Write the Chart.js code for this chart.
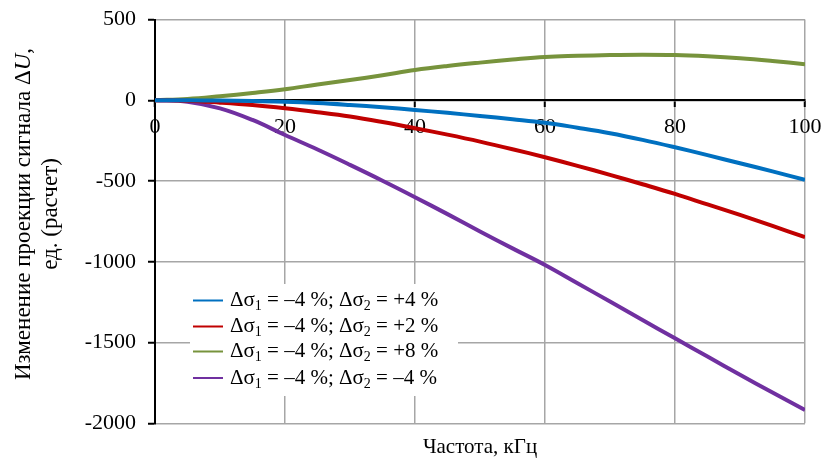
<!DOCTYPE html>
<html>
<head>
<meta charset="utf-8">
<script src="https://cdn.jsdelivr.net/npm/chart.js@4.4.1/dist/chart.umd.min.js"></script>
<style>
  html, body { margin: 0; padding: 0; background: #fff; }
  #wrap { width: 825px; height: 462px; }
</style>
</head>
<body>
<div id="wrap"><canvas id="c" width="825" height="462"></canvas></div>
<script>
// frequency, kHz
const freq = [0, 5, 10, 15, 20, 25, 30, 35, 40, 45, 50, 55, 60, 65, 70, 75, 80, 85, 90, 95, 100];
// signal projection change
const dU_plus4 = [0, 0, -2, -5, -9, -17, -29, -43, -60, -78, -97, -117, -139, -170, -204, -245, -291, -340, -390, -440, -493];
const dU_plus2 = [0, -3, -15, -30, -50, -74, -101, -135, -173, -213, -256, -303, -353, -406, -462, -520, -580, -645, -710, -778, -848];
const dU_plus8 = [0, 8, 25, 45, 68, 98, 125, 155, 187, 212, 233, 252, 268, 275, 280, 282, 280, 272, 260, 243, 223];
const dU_minus4 = [0, -9, -50, -122, -215, -305, -400, -498, -600, -705, -812, -917, -1020, -1133, -1246, -1360, -1474, -1587, -1700, -1810, -1918];

const seriesNames = [
  'Δσ₁ = –4 %; Δσ₂ = +4 %',
  'Δσ₁ = –4 %; Δσ₂ = +2 %',
  'Δσ₁ = –4 %; Δσ₂ = +8 %',
  'Δσ₁ = –4 %; Δσ₂ = –4 %'
];
const seriesColors = ['#0070C0', '#C00000', '#77933C', '#7030A0'];
const seriesValues = [dU_plus4, dU_plus2, dU_plus8, dU_minus4];

const xTicks = [0, 20, 40, 60, 80, 100];
const yTicks = [-2000, -1500, -1000, -500, 0, 500];
const yTitle = ['Изменение проекции сигнала ΔU,', 'ед. (расчет)'];
const xTitle = 'Частота, кГц';

const FONT = '"Liberation Serif", "DejaVu Serif", serif';

// draw text, shrinking and lowering subscript digits
const SUBS = '₀₁₂₃₄₅₆₇₈₉';
function drawRich(ctx, str, x, y, size) {
  let cx = x;
  for (const ch of str) {
    const k = SUBS.indexOf(ch);
    if (k >= 0) {
      ctx.font = Math.round(size * 0.65) + 'px ' + FONT;
      ctx.fillText(String(k), cx, y + size * 0.28);
      cx += ctx.measureText(String(k)).width;
    } else {
      ctx.font = size + 'px ' + FONT;
      ctx.fillText(ch, cx, y);
      cx += ctx.measureText(ch).width;
    }
  }
}

const titlesAndLegend = {
  id: 'titlesAndLegend',
  afterDraw(chart) {
    const ctx = chart.ctx;
    const area = chart.chartArea;
    ctx.save();
    ctx.fillStyle = '#000';
    ctx.textBaseline = 'middle';
    // y title, two lines rotated; the U is italic
    ctx.save();
    ctx.translate(24, 214);
    ctx.rotate(-Math.PI / 2);
    const normal = '23px ' + FONT, italic = 'italic 23px ' + FONT;
    const parts = yTitle[0].split('U');
    ctx.font = normal;
    const w0 = ctx.measureText(parts[0]).width, w2 = ctx.measureText(parts[1]).width;
    ctx.font = italic;
    const w1 = ctx.measureText('U').width;
    let px = -(w0 + w1 + w2) / 2;
    ctx.textAlign = 'left';
    ctx.font = normal; ctx.fillText(parts[0], px, 0); px += w0;
    ctx.font = italic; ctx.fillText('U', px, 0); px += w1;
    ctx.font = normal; ctx.fillText(parts[1], px, 0);
    ctx.textAlign = 'center';
    ctx.fillText(yTitle[1], 0, 27);
    ctx.restore();
    // x title
    ctx.textAlign = 'center';
    ctx.font = '21px ' + FONT;
    ctx.fillText(xTitle, (area.left + area.right) / 2, 447);
    // legend box inside plot
    ctx.fillStyle = '#fff';
    ctx.fillRect(190, 284, 268, 112);
    ctx.textAlign = 'left';
    const rowY = [300.5, 326.5, 351.5, 378];
    chart.data.datasets.forEach((ds, i) => {
      ctx.strokeStyle = ds.borderColor;
      ctx.lineWidth = 2;
      ctx.beginPath();
      ctx.moveTo(193, rowY[i]);
      ctx.lineTo(223, rowY[i]);
      ctx.stroke();
      ctx.fillStyle = '#000';
      drawRich(ctx, ds.label, 230, rowY[i], 21);
    });
    ctx.restore();
  }
};

const datasets = seriesValues.map((vals, i) => ({
  label: seriesNames[i],
  data: freq.map((f, j) => ({ x: f, y: vals[j] })),
  borderColor: seriesColors[i],
  backgroundColor: seriesColors[i],
  borderWidth: 4,
  pointRadius: 0,
  fill: false,
  tension: 0.4
}));

new Chart(document.getElementById('c'), {
  type: 'line',
  data: { datasets: datasets },
  options: {
    responsive: false,
    animation: false,
    layout: { padding: { top: 19.5, right: 20, bottom: 38.7, left: 0 } },
    plugins: {
      legend: { display: false },
      tooltip: { enabled: false }
    },
    scales: {
      x: {
        type: 'linear',
        position: { y: 0 },
        min: 0, max: 100,
        afterBuildTicks: (s) => { s.ticks = xTicks.map(v => ({ value: v })); },
        afterFit: (s) => { s.paddingLeft = 0; s.paddingRight = 0; },
        ticks: { color: '#000', font: { family: FONT, size: 22 }, padding: 8, maxRotation: 0 },
        grid: { color: '#a6a6a6', lineWidth: 1.5, tickColor: '#000', tickLength: 6, tickWidth: 2 },
        border: { color: '#000', width: 2 }
      },
      y: {
        min: -2000, max: 500,
        afterBuildTicks: (s) => { s.ticks = yTicks.map(v => ({ value: v })); },
        afterFit: (s) => { s.width = 155; s.paddingTop = 0; s.paddingBottom = 0; },
        ticks: { color: '#000', font: { family: FONT, size: 22 }, padding: 12, callback: (v) => String(v) },
        grid: { color: '#a6a6a6', lineWidth: 1.5, tickColor: '#000', tickLength: 7, tickWidth: 2 },
        border: { color: '#000', width: 2 }
      }
    }
  },
  plugins: [titlesAndLegend]
});
</script>
</body>
</html>
